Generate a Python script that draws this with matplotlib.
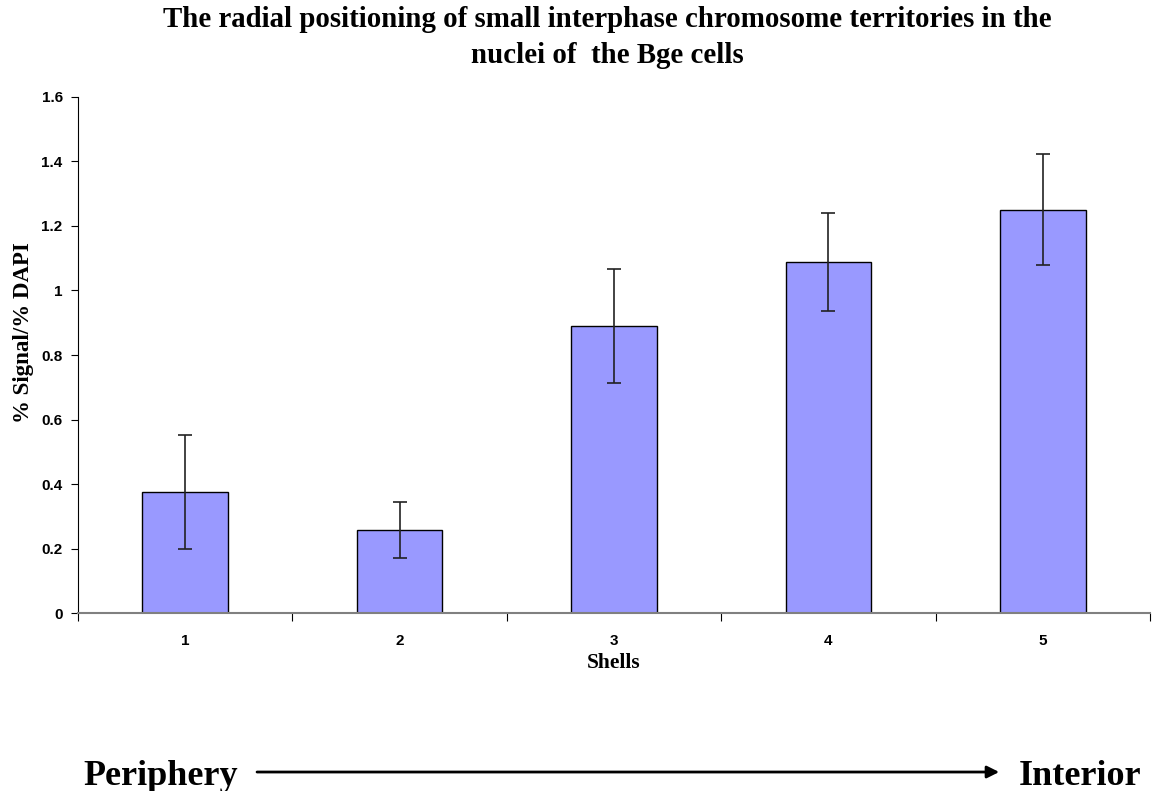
"""
Radial positioning bar chart (recreated with matplotlib)
"""
import numpy as np
import matplotlib.pyplot as plt
from matplotlib.patches import FancyArrowPatch
from matplotlib.ticker import FixedLocator, NullFormatter

# 数据
shells = ['1', '2', '3', '4', '5']
signal_ratio = [0.375, 0.257, 0.890, 1.088, 1.250]
signal_err = [0.177, 0.087, 0.177, 0.153, 0.172]
y_ticks = [0, 0.2, 0.4, 0.6, 0.8, 1, 1.2, 1.4, 1.6]
y_tick_labels = ['0', '0.2', '0.4', '0.6', '0.8', '1', '1.2', '1.4', '1.6']

serif = ['Liberation Serif', 'DejaVu Serif']
sans = ['Liberation Sans', 'DejaVu Sans']

fig = plt.figure(figsize=(11.61, 7.91), dpi=100)
ax = fig.add_axes([0.0672, 0.225, 0.9233, 0.6524])

x = np.arange(len(shells))
ax.bar(x, signal_ratio, width=0.40, color='#9999FF', edgecolor='black', linewidth=1.0,
       zorder=2)
ax.errorbar(x, signal_ratio, yerr=signal_err, fmt='none', ecolor='#222222',
            elinewidth=1.2, capsize=5, capthick=1.2, zorder=3)

ax.set_xlim(-0.5, len(shells) - 0.5)
ax.set_ylim(0, 1.6)

# 坐标轴样式
for side in ['top', 'right']:
    ax.spines[side].set_visible(False)
ax.spines['left'].set_color('black')
ax.spines['bottom'].set_color('#808080')
ax.spines['bottom'].set_linewidth(1.5)

ax.set_yticks(y_ticks)
ax.set_yticklabels(y_tick_labels, fontfamily=sans, fontweight='bold', fontsize=11)
ax.tick_params(axis='y', direction='out', length=5, pad=6)

# x 轴: 刻度线在类别边界, 标签在中心
ax.xaxis.set_major_locator(FixedLocator(np.arange(len(shells) + 1) - 0.5))
ax.xaxis.set_major_formatter(NullFormatter())
ax.xaxis.set_minor_locator(FixedLocator(x))
ax.set_xticklabels(shells, minor=True, fontfamily=sans, fontweight='bold', fontsize=11)
ax.tick_params(axis='x', which='major', direction='out', length=6)
ax.tick_params(axis='x', which='minor', length=0, pad=15)

ax.set_xlabel('Shells', fontfamily=serif, fontweight='bold', fontsize=15.5, labelpad=4)
ax.set_ylabel('% Signal/% DAPI', fontfamily=serif, fontweight='bold', fontsize=16.5)
ax.yaxis.set_label_coords(-0.041, 0.543)

fig.text(0.523, 0.9526,
         'The radial positioning of small interphase chromosome territories in the\n'
         'nuclei of  the Bge cells',
         ha='center', va='center', fontfamily=serif, fontweight='bold', fontsize=20.8,
         linespacing=1.45)

# 下方 Periphery -> Interior 箭头
fig.text(0.072, 0.0075, 'Periphery', ha='left', va='baseline', fontfamily=serif,
         fontweight='bold', fontsize=26)
fig.text(0.983, 0.0075, 'Interior', ha='right', va='baseline', fontfamily=serif,
         fontweight='bold', fontsize=26)
fig.add_artist(FancyArrowPatch(
    (0.219, 0.024), (0.863, 0.024), transform=fig.transFigure,
    arrowstyle='-|>', mutation_scale=18, color='black', linewidth=2))

plt.savefig('out.png', dpi=100)
plt.close()
